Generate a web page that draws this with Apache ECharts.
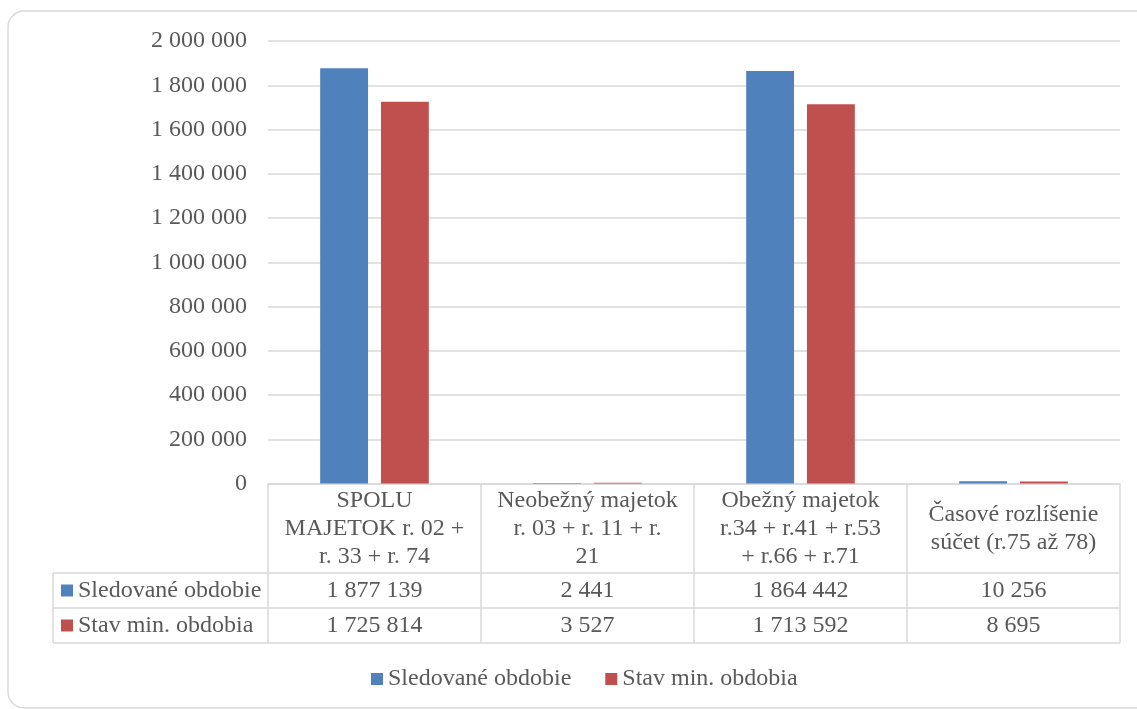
<!DOCTYPE html>
<html>
<head>
<meta charset="utf-8">
<script src="https://cdn.jsdelivr.net/npm/echarts@6/dist/echarts.min.js"></script>
<style>
  html, body { margin: 0; padding: 0; background: #fff; }
  #chart { width: 1137px; height: 709px; }
</style>
</head>
<body>
<div id="chart"></div>
<script>
// ---- data ----
var categories = [
  'SPOLU\nMAJETOK r. 02 +\nr. 33 + r. 74',
  'Neobežný majetok\nr. 03 + r. 11 + r.\n21',
  'Obežný majetok\nr.34 + r.41 + r.53\n+ r.66 + r.71',
  'Časové rozlíšenie\nsúčet (r.75 až 78)'
];
var seriesNames = ['Sledované obdobie', 'Stav min. obdobia'];
var sledovane = [1877139, 2441, 1864442, 10256];
var stavMin = [1725814, 3527, 1713592, 8695];
var yMin = 0, yMax = 2000000, yInterval = 200000;

// ---- layout / style constants ----
var FONT = "'Liberation Serif', 'Times New Roman', serif";
var TXT = '#595959';
var LINE = '#d9d9d9';
var GRID_LEFT = 268, GRID_RIGHT = 17, GRID_TOP = 41, GRID_BOTTOM = 225.5;
var W = 1137, H = 709;
var AXIS_Y = H - GRID_BOTTOM;       // 483.5
var HEADER_H = 89.5, ROW_H = 35;
var TABLE_LEFT = 53;
var PLOT_RIGHT = W - GRID_RIGHT;

function fmt(v) {
  return String(v).replace(/\B(?=(\d{3})+(?!\d))/g, ' ');
}

var row1Y = AXIS_Y + HEADER_H;
var row2Y = row1Y + ROW_H;
var row3Y = row2Y + ROW_H;

var chart = echarts.init(document.getElementById('chart'), null, { renderer: 'canvas' });

var option = {
  backgroundColor: '#fff',
  animation: false,
  textStyle: { fontFamily: FONT, color: TXT },
  grid: { left: GRID_LEFT, right: GRID_RIGHT, top: GRID_TOP, bottom: GRID_BOTTOM, containLabel: false },
  legend: [
    {
      data: [seriesNames[0]], left: 61, top: row1Y + ROW_H / 2 - 12, padding: 0,
      icon: 'rect', itemWidth: 12, itemHeight: 12, selectedMode: false,
      textStyle: { fontFamily: FONT, fontSize: 24, color: TXT, padding: [0, 0, 0, 0] }
    },
    {
      data: [seriesNames[1]], left: 61, top: row2Y + ROW_H / 2 - 12, padding: 0,
      icon: 'rect', itemWidth: 12, itemHeight: 12, selectedMode: false,
      textStyle: { fontFamily: FONT, fontSize: 24, color: TXT }
    },
    {
      data: seriesNames, left: 371, top: 667, padding: 0, itemGap: 34,
      icon: 'rect', itemWidth: 12, itemHeight: 12, selectedMode: false,
      textStyle: { fontFamily: FONT, fontSize: 24, color: TXT }
    }
  ],
  xAxis: [
    {
      type: 'category', data: categories, position: 'bottom',
      axisLine: { show: true, lineStyle: { color: LINE, width: 1.5 } },
      axisTick: { show: true, interval: 0, length: HEADER_H + 2 * ROW_H, lineStyle: { color: LINE, width: 1.5 } },
      axisLabel: {
        interval: 0, fontFamily: FONT, fontSize: 24, lineHeight: 28, color: TXT,
        verticalAlign: 'middle', margin: HEADER_H / 2, align: 'center'
      },
      splitLine: { show: false }
    },
    {
      type: 'category', data: sledovane.map(fmt), position: 'bottom', offset: HEADER_H,
      axisLine: { show: false }, axisTick: { show: false },
      axisLabel: { interval: 0, fontFamily: FONT, fontSize: 24, color: TXT, verticalAlign: 'middle', margin: ROW_H / 2 }
    },
    {
      type: 'category', data: stavMin.map(fmt), position: 'bottom', offset: HEADER_H + ROW_H,
      axisLine: { show: false }, axisTick: { show: false },
      axisLabel: { interval: 0, fontFamily: FONT, fontSize: 24, color: TXT, verticalAlign: 'middle', margin: ROW_H / 2 }
    }
  ],
  yAxis: {
    type: 'value', min: yMin, max: yMax, interval: yInterval,
    axisLine: { show: false }, axisTick: { show: false },
    axisLabel: { fontFamily: FONT, fontSize: 24, color: TXT, margin: 21, formatter: function (v) { return fmt(v); } },
    splitLine: { show: true, lineStyle: { color: LINE, width: 1.5 } }
  },
  series: [
    {
      name: seriesNames[0], type: 'bar', data: sledovane, xAxisIndex: 0,
      barGap: '27%', barCategoryGap: '49%',
      itemStyle: { color: '#4f81bd' }
    },
    {
      name: seriesNames[1], type: 'bar', data: stavMin, xAxisIndex: 0,
      barGap: '27%', barCategoryGap: '49%',
      itemStyle: { color: '#c0504d' }
    }
  ],
  graphic: [
    {
      type: 'rect', silent: true, z: -1,
      shape: { x: 8, y: 11, width: 1160, height: 697, r: 16 },
      style: { fill: null, stroke: LINE, lineWidth: 1.5 }
    },
    { type: 'line', silent: true, shape: { x1: TABLE_LEFT, y1: row1Y, x2: PLOT_RIGHT, y2: row1Y }, style: { stroke: LINE, lineWidth: 1.5 } },
    { type: 'line', silent: true, shape: { x1: TABLE_LEFT, y1: row2Y, x2: PLOT_RIGHT, y2: row2Y }, style: { stroke: LINE, lineWidth: 1.5 } },
    { type: 'line', silent: true, shape: { x1: TABLE_LEFT, y1: row3Y, x2: PLOT_RIGHT, y2: row3Y }, style: { stroke: LINE, lineWidth: 1.5 } },
    { type: 'line', silent: true, shape: { x1: TABLE_LEFT, y1: row1Y, x2: TABLE_LEFT, y2: row3Y }, style: { stroke: LINE, lineWidth: 1.5 } }
  ]
};
chart.setOption(option);
</script>
</body>
</html>
